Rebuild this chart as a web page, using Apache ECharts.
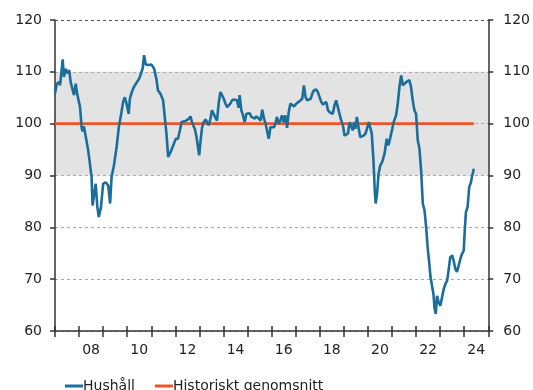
<!DOCTYPE html>
<html>
<head>
<meta charset="utf-8">
<script src="https://cdn.jsdelivr.net/npm/echarts@6/dist/echarts.min.js"></script>
<style>
html,body{margin:0;padding:0;background:#fff;}
#chart{width:533px;height:390px;}
</style>
</head>
<body>
<div id="chart"></div>
<script>
// Decimal years (monthly-ish readings) and index values for "Hushåll"
var years = [2007.00,2007.07,2007.17,2007.21,2007.32,2007.37,2007.44,2007.51,2007.59,2007.65,2007.73,2007.79,2007.86,2007.92,
2008.04,2008.11,2008.15,2008.20,2008.29,2008.38,2008.45,2008.52,2008.56,2008.63,2008.69,2008.76,2008.82,2008.91,
2009.00,2009.10,2009.21,2009.29,2009.35,2009.45,2009.56,2009.65,2009.74,2009.83,2009.90,2009.97,
2010.06,2010.11,2010.19,2010.28,2010.36,2010.43,2010.50,2010.57,2010.64,2010.70,2010.77,2010.89,
2011.01,2011.12,2011.22,2011.28,2011.38,2011.45,2011.49,2011.56,2011.63,2011.70,2011.80,2011.91,
2012.02,2012.11,2012.16,2012.26,2012.32,2012.42,2012.50,2012.57,2012.63,2012.69,2012.74,2012.81,2012.88,2012.94,2012.99,
2013.04,2013.11,2013.18,2013.25,2013.32,2013.39,2013.46,2013.52,2013.59,2013.67,2013.73,2013.80,2013.87,2013.94,
2014.01,2014.08,2014.15,2014.22,2014.29,2014.37,2014.47,2014.56,2014.63,2014.67,2014.74,2014.81,2014.88,2014.95,
2015.02,2015.09,2015.16,2015.22,2015.30,2015.37,2015.46,2015.54,2015.61,2015.68,2015.75,2015.82,2015.88,2015.95,
2016.03,2016.10,2016.17,2016.22,2016.29,2016.36,2016.43,2016.50,2016.57,2016.64,2016.71,2016.78,2016.86,2016.93,
2017.03,2017.12,2017.20,2017.27,2017.34,2017.41,2017.48,2017.55,2017.62,2017.69,2017.75,2017.85,2017.92,2017.99,
2018.06,2018.13,2018.20,2018.27,2018.34,2018.41,2018.48,2018.54,2018.61,2018.68,2018.75,2018.82,2018.89,2018.96,
2019.03,2019.10,2019.17,2019.24,2019.31,2019.37,2019.44,2019.48,2019.54,2019.61,2019.68,2019.75,2019.82,2019.90,2019.97,
2020.04,2020.11,2020.16,2020.23,2020.28,2020.32,2020.38,2020.44,2020.51,2020.59,2020.69,2020.78,2020.85,2020.92,
2021.01,2021.07,2021.17,2021.24,2021.31,2021.38,2021.45,2021.52,2021.59,2021.65,2021.72,2021.79,2021.86,2021.93,
2022.00,2022.07,2022.14,2022.21,2022.28,2022.35,2022.42,2022.48,2022.55,2022.60,2022.67,2022.72,2022.77,2022.82,2022.87,2022.94,
2023.01,2023.08,2023.15,2023.22,2023.29,2023.35,2023.42,2023.50,2023.56,2023.63,2023.70,2023.77,2023.84,2023.91,2023.98,
2024.03,2024.07,2024.14,2024.21,2024.28,2024.32,2024.40];

var hushall = [105.8,107.7,108.0,107.4,112.4,109.0,110.6,109.7,110.3,108.0,107.7,105.5,107.7,105.8,
103.2,99.1,98.5,99.5,97.2,94.8,92.3,89.7,84.2,86.5,88.4,83.9,82.0,83.9,
88.4,88.7,88.1,84.6,89.7,92.0,95.5,99.3,101.6,104.2,105.1,103.9,
101.9,104.8,106.1,107.1,107.7,107.4,108.7,109.0,110.6,113.2,111.4,111.3,
111.4,110.6,108.4,106.4,105.8,105.5,104.5,101.3,98.1,93.6,94.5,95.8,
97.1,97.1,98.1,100.3,100.6,100.5,100.6,101.0,101.4,100.3,99.7,99.0,97.4,95.5,93.9,
96.4,99.3,100.3,100.8,100.5,99.7,101.0,102.6,101.9,101.6,100.6,103.9,106.1,105.5,
104.8,103.9,103.2,102.9,103.9,104.6,104.6,104.5,103.1,105.5,102.6,101.6,100.3,101.9,
101.6,102.0,101.3,101.6,101.0,101.4,101.0,100.6,102.7,101.0,100.0,98.4,97.1,99.3,
99.5,99.3,100.3,101.3,100.0,100.6,101.6,100.3,101.6,99.2,102.2,103.9,104.0,103.3,
103.9,104.2,104.5,104.8,107.4,105.1,104.5,104.2,104.8,105.8,106.4,106.6,106.1,105.9,
104.2,103.7,103.5,104.2,102.6,102.2,102.4,101.9,103.5,104.5,104.8,101.9,100.6,99.7,
97.7,97.5,98.1,100.3,100.6,98.7,100.3,99.0,101.3,99.3,97.4,97.7,97.7,98.1,98.1,
100.3,100.6,98.1,92.9,87.5,84.6,86.5,90.3,91.9,92.6,94.2,97.1,95.8,97.1,
99.0,100.3,101.6,103.9,107.1,109.3,107.4,107.7,108.0,107.7,108.4,107.1,104.5,102.6,
101.9,96.8,95.2,91.0,84.6,83.3,80.0,76.2,73.0,70.4,70.1,67.2,64.3,63.3,66.8,65.5,
64.9,66.5,68.1,69.1,69.7,71.7,74.2,74.6,73.6,72.0,71.4,72.6,73.9,74.9,75.5,
80.0,82.9,83.9,87.8,88.7,89.7,91.3];

// Historical average
var avgYears = [2007.00, 2024.40];
var avgValues = [100, 100];

// Year categories for the x-axis labels (shown every second year)
var yearCategories = ['2007','2008','2009','2010','2011','2012','2013','2014','2015','2016','2017','2018','2019','2020','2021','2022','2023','2024'];

// Value axis ticks
var yTicks = [60, 70, 80, 90, 100, 110, 120];

var seriesNames = ['Hushåll', 'Historiskt genomsnitt'];

function zip(a, b) { return a.map(function (v, i) { return [v, b[i]]; }); }

var chart = echarts.init(document.getElementById('chart'), null, {renderer: 'canvas'});
var font = 'DejaVu Sans';
var txt = '#222';
var yMin = yTicks[0], yMax = yTicks[yTicks.length - 1], yStep = yTicks[1] - yTicks[0];

chart.setOption({
  animation: false,
  backgroundColor: '#fff',
  textStyle: {fontFamily: font},
  grid: {left: 55, right: 44, top: 20, bottom: 59, containLabel: false},
  legend: {
    left: 60, top: 374, itemWidth: 18, itemHeight: 3, itemGap: 20, icon: 'rect',
    textStyle: {fontFamily: font, fontSize: 14, color: txt, padding: [0, 0, 0, -5]},
    data: seriesNames
  },
  xAxis: [
    {
      type: 'value', min: 2007, max: 2025, interval: 1, position: 'bottom',
      axisLine: {show: true, onZero: false, lineStyle: {color: '#333', width: 1.5}},
      axisTick: {show: true, inside: true, length: 5, lineStyle: {color: '#333', width: 1.5}},
      axisLabel: {show: false}, splitLine: {show: false}
    },
    {
      type: 'category', data: yearCategories, boundaryGap: true, position: 'bottom',
      axisLine: {show: false},
      axisTick: {show: true, inside: false, length: 6, interval: 0, lineStyle: {color: '#333', width: 1.5}},
      axisLabel: {
        show: true, margin: 12, fontSize: 14, color: txt, fontFamily: font,
        interval: function (i, v) { return parseInt(v, 10) % 2 === 0; },
        formatter: function (v) { return v.slice(2); }
      },
      splitLine: {show: false}
    }
  ],
  yAxis: [
    {
      type: 'value', min: yMin, max: yMax, interval: yStep, position: 'left',
      axisLine: {show: true, lineStyle: {color: '#333', width: 1.5}},
      axisTick: {show: true, length: 5, lineStyle: {color: '#333', width: 1.5}},
      axisLabel: {margin: 13, fontSize: 14, color: txt, fontFamily: font},
      splitLine: {show: true, lineStyle: {color: ['#aaa','#aaa','#aaa','#aaa','#aaa','#aaa','#555'], type: [3, 3], width: 1}},
      splitArea: {show: true, areaStyle: {color: ['rgba(0,0,0,0)','rgba(0,0,0,0)','rgba(0,0,0,0)','#e3e3e3','#e3e3e3','rgba(0,0,0,0)']}}
    },
    {
      type: 'value', min: yMin, max: yMax, interval: yStep, position: 'right',
      axisLine: {show: true, lineStyle: {color: '#333', width: 1.5}},
      axisTick: {show: true, length: 5, lineStyle: {color: '#333', width: 1.5}},
      axisLabel: {margin: 15, fontSize: 14, color: txt, fontFamily: font},
      splitLine: {show: false}
    }
  ],
  series: [
    {
      name: seriesNames[0], type: 'line', xAxisIndex: 0, yAxisIndex: 0, z: 4,
      data: zip(years, hushall), showSymbol: false, symbol: 'none',
      lineStyle: {color: '#1a6e9c', width: 2.6}, itemStyle: {color: '#1a6e9c'}
    },
    {
      name: seriesNames[1], type: 'line', xAxisIndex: 0, yAxisIndex: 0, z: 3,
      data: zip(avgYears, avgValues), showSymbol: false, symbol: 'none',
      lineStyle: {color: '#f05326', width: 2.6}, itemStyle: {color: '#f05326'}
    }
  ]
});
</script>
</body>
</html>
